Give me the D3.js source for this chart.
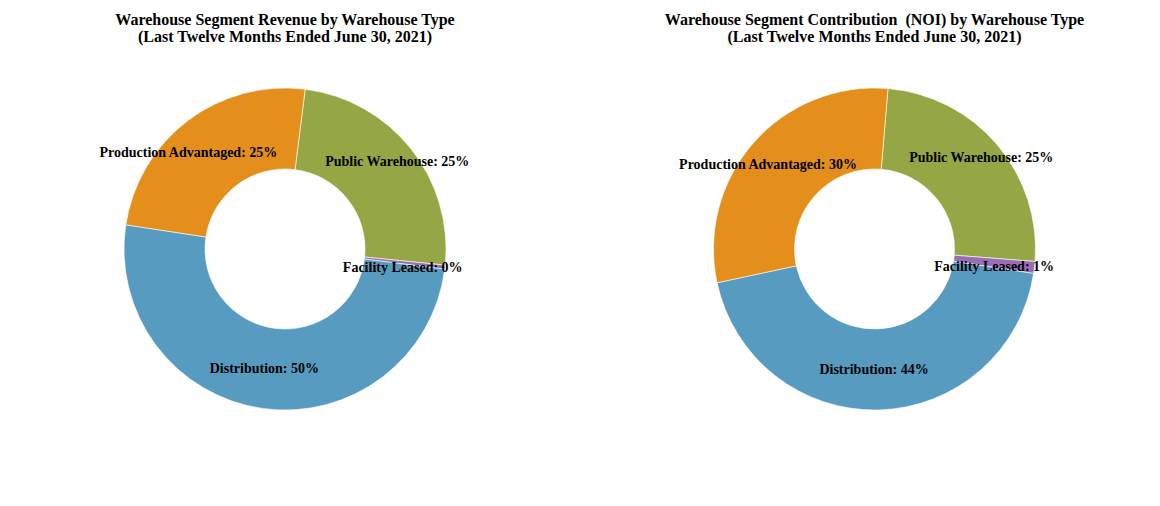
<!DOCTYPE html>
<html>
<head>
<meta charset="utf-8">
<script src="https://d3js.org/d3.v7.min.js"></script>
<style>
  body { margin: 0; background: #fff; }
  svg { display: block; }
  .title { font-family: "Liberation Serif", "Times New Roman", serif; font-weight: bold; font-size: 16px; fill: #000; white-space: pre; }
  .lbl { font-family: "Liberation Serif", "Times New Roman", serif; font-weight: bold; font-size: 14px; fill: #000; }
</style>
</head>
<body>
<svg id="chart" width="1160" height="506"></svg>
<script>
// data
const categories = ["Public Warehouse", "Facility Leased", "Distribution", "Production Advantaged"];
const revenueShare = [24.6, 0.4, 50.4, 24.6];
const noiShare = [24.9, 1.2, 44.2, 29.7];
const revenueTitle = ["Warehouse Segment Revenue by Warehouse Type", "(Last Twelve Months Ended June 30, 2021)"];
const noiTitle = ["Warehouse Segment Contribution  (NOI) by Warehouse Type", "(Last Twelve Months Ended June 30, 2021)"];

const colors = ["#95a644", "#9b6db5", "#579bc0", "#e48f1b"];

const svg = d3.select("#chart");

const charts = [
  { title: revenueTitle, values: revenueShare, cx: 285, start: 7.2,
    nudge: [[18, -12], [-2, 5], [-4, 0], [-24, 0]] },
  { title: noiTitle, values: noiShare, cx: 874.5, start: 4.8,
    nudge: [[15, -13], [0, 4], [-4, 0], [-16, -5]] }
];

const cy = 249, outerR = 161, innerR = 80;

charts.forEach(c => {
  const g = svg.append("g").attr("transform", `translate(${c.cx},${cy})`);

  const pie = d3.pie().sort(null)
    .startAngle(c.start * Math.PI / 180)
    .endAngle(c.start * Math.PI / 180 + 2 * Math.PI);

  const arc = d3.arc().innerRadius(innerR).outerRadius(outerR);
  const arcs = pie(c.values);

  g.selectAll("path")
    .data(arcs)
    .join("path")
    .attr("d", arc)
    .attr("fill", (d, i) => colors[i])
    .attr("stroke", "#fff")
    .attr("stroke-width", 0.6);

  g.selectAll("text.lbl")
    .data(arcs)
    .join("text")
    .attr("class", "lbl")
    .attr("text-anchor", "middle")
    .attr("dominant-baseline", "central")
    .attr("x", (d, i) => arc.centroid(d)[0] + c.nudge[i][0])
    .attr("y", (d, i) => arc.centroid(d)[1] + c.nudge[i][1])
    .text((d, i) => categories[i] + ": " + Math.round(d.data) + "%");

  svg.selectAll(null)
    .data(c.title)
    .join("text")
    .attr("class", "title")
    .attr("xml:space", "preserve")
    .attr("text-anchor", "middle")
    .attr("x", c.cx)
    .attr("y", (d, i) => 25 + i * 17)
    .text(d => d);
});
</script>
</body>
</html>
